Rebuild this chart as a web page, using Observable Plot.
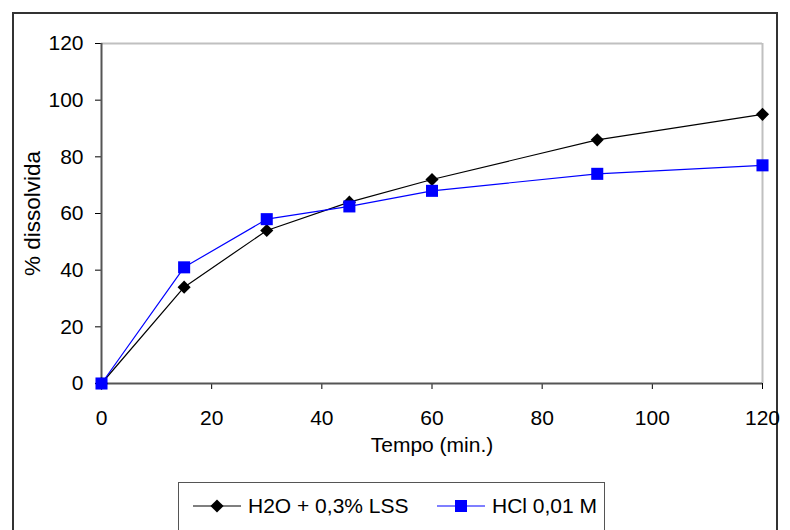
<!DOCTYPE html>
<html>
<head>
<meta charset="utf-8">
<script src="https://cdn.jsdelivr.net/npm/d3@7"></script>
<script src="https://cdn.jsdelivr.net/npm/@observablehq/plot@0.6"></script>
<style>
  html, body { margin: 0; padding: 0; background: #fff; }
  #wrap { position: relative; width: 790px; height: 530px; overflow: hidden; background: #fff;
          font-family: "Liberation Sans", Arial, sans-serif; }
  #border { position: absolute; left: 12px; top: 12px; width: 766px; height: 600px;
            border: 2px solid #333; box-sizing: border-box; }
  #chart { position: absolute; left: 0; top: 0; }
  #legend { position: absolute; left: 178px; top: 482px; width: 427px; height: 100px;
            border: 1.5px solid #555; box-sizing: border-box; background: #fff; }
  .item { position: absolute; top: 8px; height: 30px; display: flex; align-items: center;
          font-size: 21px; color: #000; white-space: nowrap; }
  .item svg { margin-right: 6px; }
</style>
</head>
<body>
<div id="wrap">
  <div id="border"></div>
  <div id="chart"></div>
  <div id="legend"></div>
</div>
<script>
// ---- data ----
const tempo = [0, 15, 30, 45, 60, 90, 120];
const h2o   = [0, 34, 54, 64, 72, 86, 95];
const hcl   = [0, 41, 58, 62.5, 68, 74, 77];
const seriesNames = ["H2O + 0,3% LSS", "HCl 0,01 M"];
const xTicks = [0, 20, 40, 60, 80, 100, 120];
const yTicks = [0, 20, 40, 60, 80, 100, 120];
const xLabel = "Tempo (min.)";
const yLabel = "% dissolvida";

const colors = ["#000000", "#0000ff"];
const symbols = ["diamond2", "square"];
const radii = [5.9, 6.8];

const rowsA = tempo.map((t, i) => ({ t, v: h2o[i] }));
const rowsB = tempo.map((t, i) => ({ t, v: hcl[i] }));
const xDomain = [xTicks[0], xTicks[xTicks.length - 1]];
const yDomain = [yTicks[0], yTicks[yTicks.length - 1]];

const chart = Plot.plot({
  width: 790,
  height: 530,
  marginLeft: 101,
  marginRight: 28,
  marginTop: 43,
  marginBottom: 147,
  style: { fontFamily: "'Liberation Sans', Arial, sans-serif", fontSize: "21px", background: "transparent", color: "#000", overflow: "visible" },
  x: { domain: xDomain, ticks: xTicks, tickSize: 6, tickPadding: 21, label: null, tickFormat: d => String(d) },
  y: { domain: yDomain, ticks: yTicks, tickSize: 6, tickPadding: 12, label: null, tickFormat: d => String(d) },
  marks: [
    Plot.ruleY([yDomain[1]], { stroke: "#c0c0c0", strokeWidth: 2 }),
    Plot.ruleX([xDomain[1]], { stroke: "#c0c0c0", strokeWidth: 2 }),
    Plot.ruleX([xDomain[0]], { stroke: "#555", strokeWidth: 2 }),
    Plot.ruleY([yDomain[0]], { stroke: "#555", strokeWidth: 2 }),
    Plot.line(rowsA, { x: "t", y: "v", stroke: colors[0], strokeWidth: 1.2 }),
    Plot.dot(rowsA, { x: "t", y: "v", symbol: symbols[0], r: radii[0], fill: colors[0], stroke: "none" }),
    Plot.line(rowsB, { x: "t", y: "v", stroke: colors[1], strokeWidth: 1.2 }),
    Plot.dot(rowsB, { x: "t", y: "v", symbol: symbols[1], r: radii[1], fill: colors[1], stroke: "none" }),
    Plot.text([xLabel], { text: d => d, frameAnchor: "bottom", lineAnchor: "middle", textAnchor: "middle", dy: 62, fontSize: 21, fill: "#000" }),
    Plot.text([yLabel], { text: d => d, frameAnchor: "left", lineAnchor: "middle", textAnchor: "middle", dx: -69, rotate: -90, fontSize: 22.5, fill: "#000" })
  ]
});
document.getElementById("chart").appendChild(chart);

// ---- legend ----
const legend = document.getElementById("legend");
const lefts = [14, 258];
seriesNames.forEach((name, i) => {
  const item = document.createElement("div");
  item.className = "item";
  item.style.left = lefts[i] + "px";
  const sw = d3.create("svg").attr("width", 49).attr("height", 20);
  sw.append("line").attr("x1", 0).attr("x2", 48).attr("y1", 10).attr("y2", 10)
    .attr("stroke", colors[i]).attr("stroke-width", 1.2);
  const sym = i === 0 ? d3.symbolDiamond2 : d3.symbolSquare;
  sw.append("path").attr("transform", "translate(24,10)")
    .attr("d", d3.symbol(sym, Math.PI * radii[i] * radii[i])())
    .attr("fill", colors[i]);
  item.appendChild(sw.node());
  const span = document.createElement("span");
  span.textContent = name;
  item.appendChild(span);
  legend.appendChild(item);
});
</script>
</body>
</html>
